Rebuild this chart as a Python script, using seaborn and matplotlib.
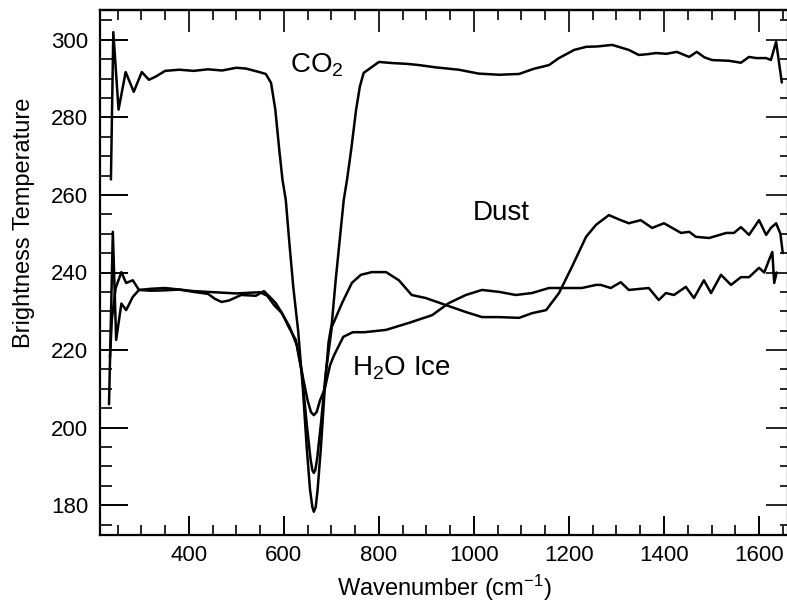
import matplotlib
matplotlib.use("Agg")
import matplotlib.pyplot as plt
from matplotlib.ticker import MultipleLocator
import seaborn as sns
import pandas as pd

# --- spectra: wavenumber (cm^-1) and brightness temperature (K) ---
co2_wn = [236, 241, 252, 267, 284, 301, 316, 330, 350, 380, 410, 440, 470, 500, 520,
          545, 562, 573, 582, 590, 597, 604, 612, 620, 630, 640, 648, 655, 660, 663,
          667, 671, 678, 686, 694, 701, 709, 718, 726, 733, 742, 752, 760, 768, 783,
          800, 830, 860, 884, 920, 968, 1010, 1053, 1095, 1125, 1158, 1179, 1211,
          1236, 1260, 1291, 1326, 1347, 1365, 1383, 1405, 1427, 1453, 1469, 1485,
          1501, 1537, 1562, 1579, 1594, 1615, 1625, 1636, 1648]
co2_bt = [264, 302, 282, 291.7, 286.6, 291.7, 289.7, 290.5, 292.0, 292.3, 292.0, 292.4,
          292.1, 292.8, 292.6, 291.8, 291.2, 288.9, 282, 272, 264, 258.7, 247, 236,
          225, 210, 195, 184, 179.5, 178.3, 179.5, 184, 195, 210, 222, 227, 238, 249,
          258.7, 264, 272, 282, 288, 291.5, 292.8, 294.3, 294.0, 293.8, 293.5, 292.9,
          292.3, 291.3, 291.0, 291.2, 292.5, 293.5, 295.3, 297.4, 298.2, 298.3, 298.7,
          297.4, 296.1, 296.3, 296.6, 296.4, 296.9, 295.6, 296.9, 295.5, 294.8, 294.6,
          294.1, 295.6, 295.3, 295.3, 294.8, 299.5, 289.0]

dust_wn = [232, 240, 247, 258, 268, 282, 295, 320, 350, 380, 410, 440, 455, 469, 485,
           510, 541, 558, 572, 583, 596, 610, 625, 638, 648, 656, 660, 663, 666, 670,
           678, 688, 701, 722, 743, 762, 785, 815, 842, 869, 899, 941, 983, 1017, 1053,
           1095, 1122, 1152, 1179, 1206, 1236, 1257, 1284, 1309, 1326, 1351, 1375,
           1400, 1436, 1453, 1467, 1495, 1531, 1547, 1562, 1579, 1600, 1615, 1625,
           1636, 1645, 1650]
dust_bt = [206, 250.5, 222.6, 232, 230.3, 233.7, 235.5, 235.8, 236.0, 235.6, 235.0,
           234.5, 233.2, 232.4, 232.8, 234.2, 234.0, 235.2, 233.5, 232.1, 229.5, 226,
           222.6, 214, 201, 192, 189, 188.3, 189, 192, 201, 214, 226, 232, 237.3, 239.4,
           240.1, 240.1, 238.0, 234.2, 233.4, 231.6, 229.8, 228.5, 228.5, 228.3, 229.5,
           230.3, 234.7, 241.4, 249.2, 252.3, 254.8, 253.5, 252.7, 253.5, 251.5, 252.7,
           250.2, 250.5, 249.2, 248.9, 250.2, 250.2, 251.7, 249.7, 253.5, 249.7, 251.5,
           252.7, 250.0, 245.0]

ice_wn = [234, 238, 246, 258, 268, 282, 295, 320, 350, 380, 410, 440, 470, 500, 530,
          550, 565, 580, 596, 612, 628, 640, 650, 657, 663, 669, 676, 686, 697, 705,
          725, 745, 770, 815, 863, 912, 947, 983, 1017, 1053, 1088, 1122, 1158, 1194,
          1227, 1257, 1267, 1288, 1309, 1326, 1368, 1389, 1404, 1421, 1446, 1463,
          1484, 1499, 1520, 1541, 1562, 1579, 1600, 1611, 1621, 1628, 1632, 1637]
ice_bt = [218, 228, 236, 240.1, 237.3, 238, 235.5, 235.3, 235.4, 235.6, 235.2, 235.0,
          234.8, 234.6, 234.8, 234.9, 234.0, 231.5, 229.5, 226, 221, 213, 207, 204,
          203.2, 204, 207, 210, 216, 218.5, 223.4, 224.6, 224.6, 225.2, 227, 229, 232.1,
          234.2, 235.5, 235, 234.2, 234.7, 236, 236, 236, 236.8, 236.8, 236, 237.5,
          235.5, 236, 232.9, 234.7, 234.2, 236.3, 233.4, 238, 234.7, 239.4, 236.8,
          238.8, 238.8, 241.2, 240, 243.2, 245.3, 237.3, 240.0]

x_major = [400, 600, 800, 1000, 1200, 1400, 1600]
y_major = [180, 200, 220, 240, 260, 280, 300]

sns.set_theme(style="ticks")
plt.rcParams["font.family"] = ["Liberation Sans", "DejaVu Sans"]
plt.rcParams["mathtext.fontset"] = "custom"
plt.rcParams["mathtext.rm"] = "Liberation Sans"
plt.rcParams["mathtext.it"] = "Liberation Sans:italic"
plt.rcParams["mathtext.bf"] = "Liberation Sans:bold"

fig = plt.figure(figsize=(7.87, 6.04), dpi=100)
fig.patch.set_facecolor("white")
ax = fig.add_axes([100 / 787, 69 / 604, 688 / 787, 525 / 604])
ax.set_facecolor("white")

for wn, bt in ((co2_wn, co2_bt), (dust_wn, dust_bt), (ice_wn, ice_bt)):
    df = pd.DataFrame({"wn": wn, "bt": bt})
    sns.lineplot(data=df, x="wn", y="bt", ax=ax, color="black", lw=1.8,
                 estimator=None, sort=False)

ax.set_xlim(213, 1661)
ax.set_ylim(172.3, 307.7)

ax.set_xticks(x_major)
ax.set_yticks(y_major)
ax.xaxis.set_minor_locator(MultipleLocator(50))
ax.yaxis.set_minor_locator(MultipleLocator(5))

ax.tick_params(axis="x", which="major", direction="in", length=14, width=1.4,
               labelsize=16, pad=7, colors="black")
ax.tick_params(axis="x", which="minor", direction="in", length=7, width=1.4)
ax.tick_params(axis="y", which="major", direction="in", length=20, width=1.4,
               labelsize=16, pad=8.5, colors="black")
ax.tick_params(axis="y", which="minor", direction="in", length=8.5, width=1.4)

for s in ax.spines.values():
    s.set_visible(True)
    s.set_color("black")
    s.set_linewidth(1.6)

top = ax.secondary_xaxis("top")
top.set_xticks(x_major)
top.xaxis.set_minor_locator(MultipleLocator(50))
top.tick_params(which="major", direction="in", length=16, width=1.4, labeltop=False)
top.tick_params(which="minor", direction="in", length=7, width=1.4)
top.spines["top"].set_linewidth(1.6)

right = ax.secondary_yaxis("right")
right.set_yticks(y_major)
right.yaxis.set_minor_locator(MultipleLocator(5))
right.tick_params(which="major", direction="in", length=16, width=1.4, labelright=False)
right.tick_params(which="minor", direction="in", length=6, width=1.4)

ax.set_xlabel("Wavenumber (cm$^{-1}$)", fontsize=17, color="black")
ax.set_ylabel("Brightness Temperature", fontsize=17, color="black")
ax.xaxis.set_label_coords(0.5, -0.072)
ax.yaxis.set_label_coords(-0.094, 0.594)

ax.text(669, 291.7, "CO$_2$", fontsize=20, ha="center", va="baseline", color="black")
ax.text(1057, 253.5, "Dust", fontsize=20, ha="center", va="baseline", color="black")
ax.text(744, 213.5, "H$_2$O Ice", fontsize=20, ha="left", va="baseline", color="black")

fig.savefig("out.png", dpi=100, facecolor="white")
